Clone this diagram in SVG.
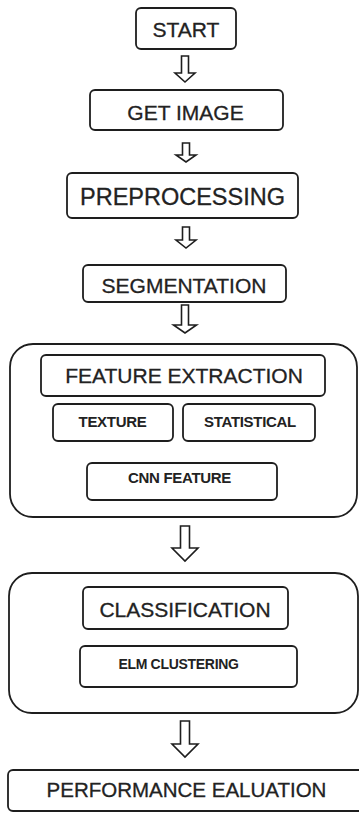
<svg xmlns="http://www.w3.org/2000/svg" width="359" height="813" viewBox="0 0 359 813">
  <style>
    .box { fill: #ffffff; stroke: #1e1e1e; stroke-width: 1.8; }
    .group { fill: #ffffff; stroke: #1e1e1e; stroke-width: 1.8; }
    .lbl { font-family: "Liberation Sans", Arial, sans-serif; fill: #222222; text-anchor: middle; }
    .main { font-size: 21px; stroke: #222222; stroke-width: 0.3; }
    .sub { font-size: 15px; font-weight: bold; letter-spacing: -0.3px; }
    .arr { fill: #ffffff; stroke: #1e1e1e; stroke-width: 1.6; stroke-linejoin: miter; }
  </style>
  <rect width="359" height="813" fill="#ffffff"/>

  <!-- flow arrows -->
  <g id="connectors">
    <path class="arr" d="M181.5,56 H188.5 V73 H195 L185,82 L175,73 H181.5 Z"/>
    <path class="arr" d="M182.5,143 H189.5 V155 H196 L186,162 L176,155 H182.5 Z"/>
    <path class="arr" d="M182.5,227 H189.5 V240 H196 L186,248 L176,240 H182.5 Z"/>
    <path class="arr" d="M181.5,305 H188.5 V325 H196.5 L185,333 L173.5,325 H181.5 Z"/>
    <path class="arr" d="M180.5,526 H189.5 V548 H198 L185,561 L172,548 H180.5 Z"/>
    <path class="arr" d="M180.5,721 H189.5 V744 H198 L185,757 L172,744 H180.5 Z"/>
  </g>

  <g id="start">
    <rect class="box" x="136" y="8" width="100" height="41" rx="5"/>
    <text class="lbl main" x="186" y="37">START</text>
  </g>

  <g id="get-image">
    <rect class="box" x="90" y="90" width="193" height="40" rx="5"/>
    <text class="lbl main" x="185.5" y="120">GET IMAGE</text>
  </g>

  <g id="preprocessing">
    <rect class="box" x="67" y="173" width="231" height="45" rx="5"/>
    <text class="lbl main" x="182.5" y="205" style="font-size:23.5px">PREPROCESSING</text>
  </g>

  <g id="segmentation">
    <rect class="box" x="83" y="265" width="203" height="37" rx="5"/>
    <text class="lbl main" x="184" y="293">SEGMENTATION</text>
  </g>

  <g id="feature-extraction">
    <rect class="group" x="10" y="344" width="347" height="173" rx="23"/>
    <g id="feature-extraction-title">
      <rect class="box" x="41" y="355" width="284" height="41" rx="5"/>
      <text class="lbl main" x="184" y="383">FEATURE EXTRACTION</text>
    </g>
    <g id="texture">
      <rect class="box" x="53" y="404" width="120" height="37" rx="5"/>
      <text class="lbl sub" x="112.5" y="427">TEXTURE</text>
    </g>
    <g id="statistical">
      <rect class="box" x="183" y="404" width="132" height="37" rx="5"/>
      <text class="lbl sub" x="250" y="427">STATISTICAL</text>
    </g>
    <g id="cnn-feature">
      <rect class="box" x="87" y="463" width="190" height="37" rx="5"/>
      <text class="lbl sub" x="179.5" y="483">CNN FEATURE</text>
    </g>
  </g>

  <g id="classification">
    <rect class="group" x="9" y="573" width="349" height="140" rx="23"/>
    <g id="classification-title">
      <rect class="box" x="83" y="587" width="205" height="42" rx="5"/>
      <text class="lbl main" x="185" y="617">CLASSIFICATION</text>
    </g>
    <g id="elm-clustering">
      <rect class="box" x="80" y="646" width="217" height="41" rx="5"/>
      <text class="lbl sub" x="178.5" y="669" style="font-size:14px">ELM CLUSTERING</text>
    </g>
  </g>

  <g id="performance-evaluation">
    <rect class="box" x="8" y="770" width="362" height="41" rx="5"/>
    <text class="lbl main" x="186.5" y="797" style="font-size:20.5px">PERFORMANCE EALUATION</text>
  </g>
</svg>
